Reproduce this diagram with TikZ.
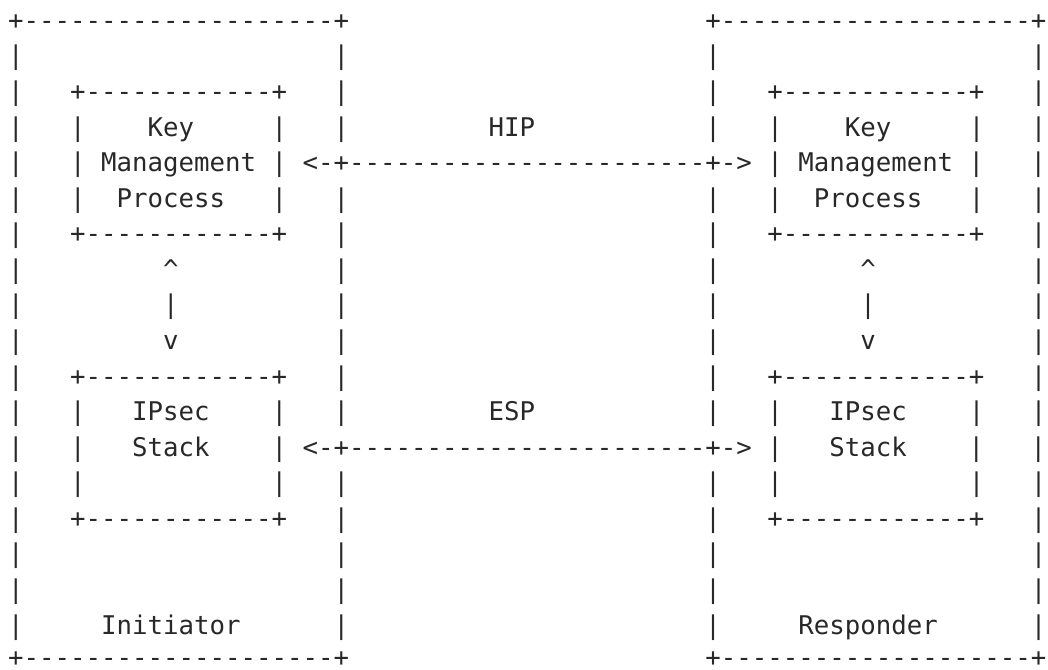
\documentclass[tikz,border=0pt]{standalone}
\usepackage{fontspec}
\setmonofont{DejaVu Sans Mono}
\ExplSyntaxOn
\NewDocumentCommand\Rep{mm}{\prg_replicate:nn{#1}{#2}}
\ExplSyntaxOff
\newcommand\Sp[1]{\Rep{#1}{\ }}
\newcommand\Ds[1]{\Rep{#1}{-}}
\newcommand\Edge{+\Ds{20}+}
\newcommand\Blank{|\Sp{20}|}
\newcommand\InEdge{|\Sp{3}+\Ds{12}+\Sp{3}|}
\newcommand\InText[3]{|\Sp{3}|\Sp{#1}#2\Sp{#3}|\Sp{3}|}
\definecolor{ink}{RGB}{40,40,40}
\begin{document}
\begin{tikzpicture}[x=0.75pt,y=-0.75pt,
  asc/.style={anchor=base west, inner sep=0pt, outer sep=0pt, text=ink,
    font=\ttfamily\fontsize{19.3pt}{20pt}\selectfont}]
\useasboundingbox (0,0) rectangle (1048,669);
\node[asc] (r0)  at (8.25, 29.30) {\Edge\Sp{23}\Edge};
\node[asc] (r1)  at (8.25, 64.87) {\Blank\Sp{23}\Blank};
\node[asc] (r2)  at (8.25,100.44) {\InEdge\Sp{23}\InEdge};
\node[asc] (r3)  at (8.25,136.01) {\InText{4}{Key}{5}\Sp{9}HIP\Sp{11}\InText{4}{Key}{5}};
\node[asc] (r4)  at (8.25,171.58) {|\Sp{3}|\Sp{1}Management\Sp{1}|\Sp{1}<-+\Ds{23}+->\Sp{1}|\Sp{1}Management\Sp{1}|\Sp{3}|};
\node[asc] (r5)  at (8.25,207.15) {\InText{2}{Process}{3}\Sp{23}\InText{2}{Process}{3}};
\node[asc] (r6)  at (8.25,242.72) {\InEdge\Sp{23}\InEdge};
\node[asc] (r7)  at (8.25,278.29) {|\Sp{9}\textasciicircum\Sp{10}|\Sp{23}|\Sp{9}\textasciicircum\Sp{10}|};
\node[asc] (r8)  at (8.25,313.86) {|\Sp{9}|\Sp{10}|\Sp{23}|\Sp{9}|\Sp{10}|};
\node[asc] (r9)  at (8.25,349.43) {|\Sp{9}v\Sp{10}|\Sp{23}|\Sp{9}v\Sp{10}|};
\node[asc] (r10) at (8.25,385.00) {\InEdge\Sp{23}\InEdge};
\node[asc] (r11) at (8.25,420.57) {\InText{3}{IPsec}{4}\Sp{9}ESP\Sp{11}\InText{3}{IPsec}{4}};
\node[asc] (r12) at (8.25,456.14) {|\Sp{3}|\Sp{3}Stack\Sp{4}|\Sp{1}<-+\Ds{23}+->\Sp{1}|\Sp{3}Stack\Sp{4}|\Sp{3}|};
\node[asc] (r13) at (8.25,491.71) {|\Sp{3}|\Sp{12}|\Sp{3}|\Sp{23}|\Sp{3}|\Sp{12}|\Sp{3}|};
\node[asc] (r14) at (8.25,527.28) {\InEdge\Sp{23}\InEdge};
\node[asc] (r15) at (8.25,562.85) {\Blank\Sp{23}\Blank};
\node[asc] (r16) at (8.25,598.42) {\Blank\Sp{23}\Blank};
\node[asc] (r17) at (8.25,633.99) {|\Sp{5}Initiator\Sp{6}|\Sp{23}|\Sp{5}Responder\Sp{6}|};
\node[asc] (r18) at (8.25,666.50) {\Edge\Sp{23}\Edge};
\end{tikzpicture}
\end{document}
